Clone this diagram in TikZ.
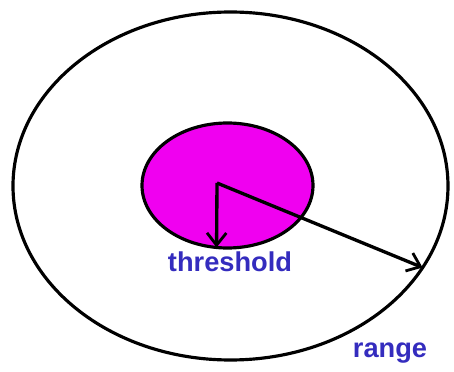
\documentclass[tikz,border=0pt]{standalone}
\usepackage{fontspec}
\setmainfont{Liberation Sans}
\usetikzlibrary{shapes.geometric,arrows.meta}
\definecolor{lblue}{RGB}{52,44,190}
\definecolor{pink}{RGB}{240,0,240}
\tikzset{
  zone/.style={draw=black, line width=1.8pt, ellipse, inner sep=0pt, outer sep=0pt},
  radius/.style={line width=1.9pt, -{Straight Barb[length=7pt,width=11pt,line width=1.6pt]}},
  lbl/.style={text=lblue, font=\fontsize{15.5}{16}\selectfont\bfseries, inner sep=0pt}
}
\begin{document}
\begin{tikzpicture}
\useasboundingbox (0,0) rectangle (9.08,7.44);

\node[zone, minimum width=8.7cm, minimum height=6.96cm] (range) at (4.61,3.72) {};
\node[zone, fill=pink, minimum width=3.42cm, minimum height=2.5cm] (thr) at (4.55,3.73) {};

\coordinate (ctr) at (4.34,3.78);
\draw[radius] (ctr) -- (thr.260);
\draw[radius] (ctr) -- (range.-23);

\node[lbl] (thrlbl) at (4.6,2.2) {threshold};
\node[lbl] (rangelbl) at (7.8,0.38) {range};

\end{tikzpicture}
\end{document}
